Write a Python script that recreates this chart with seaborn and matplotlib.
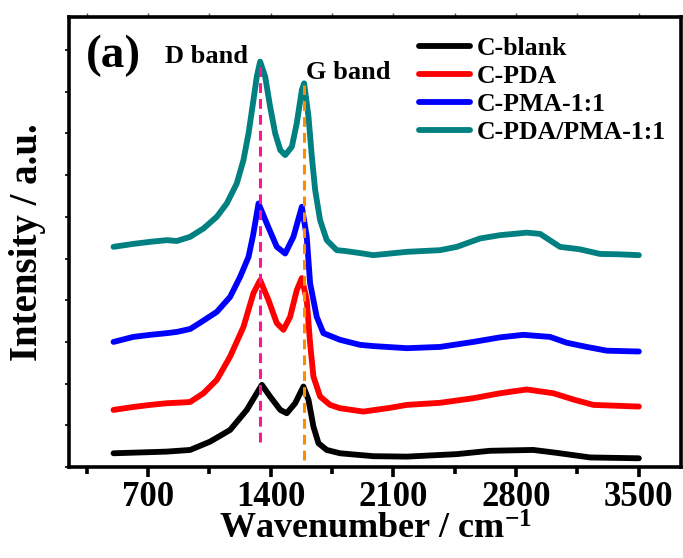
import matplotlib
matplotlib.use('Agg')
import matplotlib.pyplot as plt
import pandas as pd
import seaborn as sns
from matplotlib.ticker import MultipleLocator

# Raman spectra (wavenumber, stacked intensity in a.u.)
wn_blank = [504, 808, 941, 1055, 1169, 1264, 1321, 1350, 1397, 1455, 1492, 1540, 1587, 1616,
            1644, 1673, 1720, 1796, 1986, 2177, 2462, 2651, 2898, 3032, 3222, 3500]
int_blank = [0.33, 0.37, 0.41, 0.61, 0.89, 1.37, 1.77, 1.97, 1.69, 1.37, 1.29, 1.53, 1.93, 1.61,
             0.97, 0.57, 0.41, 0.33, 0.26, 0.25, 0.31, 0.39, 0.41, 0.34, 0.23, 0.21]

wn_pda = [504, 616, 713, 808, 903, 941, 1017, 1093, 1169, 1245, 1302, 1340, 1388, 1435, 1473,
          1511, 1549, 1578, 1606, 1625, 1644, 1682, 1739, 1796, 1929, 2081, 2177, 2366, 2556,
          2709, 2861, 3012, 3126, 3240, 3500]
int_pda = [1.37, 1.44, 1.49, 1.53, 1.55, 1.56, 1.77, 2.09, 2.65, 3.36, 4.17, 4.48, 4.00, 3.45, 3.29,
           3.60, 4.24, 4.53, 4.00, 2.97, 2.17, 1.69, 1.49, 1.41, 1.33, 1.42, 1.49, 1.54, 1.65,
           1.77, 1.86, 1.77, 1.62, 1.49, 1.45]

wn_pma = [504, 616, 713, 808, 865, 941, 998, 1093, 1169, 1226, 1274, 1300, 1331, 1378, 1435,
          1483, 1530, 1578, 1606, 1625, 1663, 1701, 1796, 1910, 1986, 2177, 2366, 2556, 2709,
          2841, 2994, 3089, 3203, 3317, 3500]
int_pma = [3.00, 3.12, 3.17, 3.21, 3.24, 3.31, 3.46, 3.72, 4.08, 4.56, 5.04, 5.56, 6.32, 5.84, 5.28,
           5.12, 5.52, 6.24, 5.52, 4.41, 3.60, 3.21, 3.05, 2.93, 2.90, 2.85, 2.88, 3.00, 3.11,
           3.17, 3.12, 2.98, 2.88, 2.79, 2.77]

wn_mix = [504, 616, 713, 808, 865, 941, 1017, 1093, 1150, 1207, 1245, 1274, 1302, 1321, 1340,
          1369, 1397, 1426, 1455, 1483, 1521, 1549, 1578, 1591, 1616, 1635, 1654, 1682, 1720,
          1777, 1825, 1910, 1986, 2177, 2366, 2462, 2594, 2709, 2861, 2937, 3050, 3164, 3278,
          3392, 3500]
int_mix = [5.28, 5.35, 5.40, 5.44, 5.42, 5.52, 5.72, 6.00, 6.32, 6.80, 7.36, 8.00, 8.80, 9.36, 9.72,
           9.36, 8.64, 8.00, 7.60, 7.48, 7.68, 8.24, 9.04, 9.20, 8.40, 7.44, 6.64, 5.92, 5.44,
           5.20, 5.18, 5.13, 5.08, 5.16, 5.20, 5.28, 5.48, 5.56, 5.62, 5.59, 5.28, 5.22, 5.11,
           5.10, 5.08]

labels = ['C-blank', 'C-PDA', 'C-PMA-1:1', 'C-PDA/PMA-1:1']
colors = ['#000000', '#FF0000', '#0000FF', '#008080']

d_band = 1340
g_band = 1590

frames = []
for lab, wn, inten in zip(labels, [wn_blank, wn_pda, wn_pma, wn_mix],
                          [int_blank, int_pda, int_pma, int_mix]):
    frames.append(pd.DataFrame({'wn': wn, 'I': inten, 'sample': lab}))
df = pd.concat(frames, ignore_index=True)

sns.set_style('ticks', {'axes.edgecolor': 'black', 'text.color': 'black',
                        'xtick.color': 'black', 'ytick.color': 'black',
                        'axes.labelcolor': 'black'})
plt.rcParams['font.family'] = ['Liberation Serif', 'DejaVu Serif']
plt.rcParams['font.weight'] = 'bold'
plt.rcParams['mathtext.fontset'] = 'custom'
plt.rcParams['mathtext.rm'] = 'Liberation Serif:bold'
plt.rcParams['mathtext.it'] = 'Liberation Serif:bold'
plt.rcParams['mathtext.bf'] = 'Liberation Serif:bold'

fig = plt.figure(figsize=(6.83, 5.58), dpi=100)
ax = fig.add_axes([0.101, 0.163, 0.896, 0.8065])

sns.lineplot(data=df, x='wn', y='I', hue='sample', hue_order=labels, palette=colors,
             linewidth=4.2, sort=False, ax=ax)
for ln in ax.get_lines():
    ln.set_solid_joinstyle('round')
    ln.set_solid_capstyle('round')

ax.plot([d_band, d_band], [0.6, 9.7], color='#FF1493', linestyle=(0, (3.2, 2.0)), linewidth=2.2, zorder=5)
ax.plot([g_band, g_band], [0.17, 9.15], color='#FF8C00', linestyle=(0, (3.2, 2.0)), linewidth=2.2, zorder=5)

ax.set_xlim(250, 3740)
ax.set_ylim(0, 10.79)
ax.xaxis.set_major_locator(MultipleLocator(700))
ax.xaxis.set_minor_locator(MultipleLocator(350))
ax.yaxis.set_major_locator(MultipleLocator(1))
ax.set_yticklabels([])

for s in ax.spines.values():
    s.set_linewidth(2.6)
    s.set_visible(True)
    s.set_color('black')

ax.tick_params(axis='x', which='major', direction='out', length=7, width=2.6, labelsize=25, pad=3)
ax.tick_params(axis='x', which='minor', direction='out', length=5, width=2.6)
ax.tick_params(axis='y', which='major', direction='out', length=3, width=1.2)

top = ax.secondary_xaxis('top')
top.xaxis.set_major_locator(MultipleLocator(350))
top.tick_params(direction='out', length=3, width=1, labeltop=False, color='#555555')
top.spines['top'].set_visible(False)

ax.set_xlabel('Wavenumber / cm$^{-1}$', fontsize=26, fontweight='bold', labelpad=0)
ax.set_ylabel('Intensity / a.u.', fontsize=28, fontweight='bold', labelpad=10)

ax.text(0.027, 0.96, '(a)', transform=ax.transAxes, fontsize=34, fontweight='bold', va='top')
ax.text(800, 9.85, 'D band', fontsize=19, fontweight='bold', ha='left', va='center')
ax.text(1600, 9.45, 'G band', fontsize=19, fontweight='bold', ha='left', va='center')

leg = ax.legend(loc='upper right', bbox_to_anchor=(1.0, 0.99), frameon=False,
                prop={'size': 18.5, 'weight': 'bold'}, handlelength=2.0, handletextpad=0.25,
                labelspacing=0.2, borderaxespad=0.2)
for h in leg.get_lines():
    h.set_linewidth(4.2)

fig.savefig('out.png', dpi=100)
